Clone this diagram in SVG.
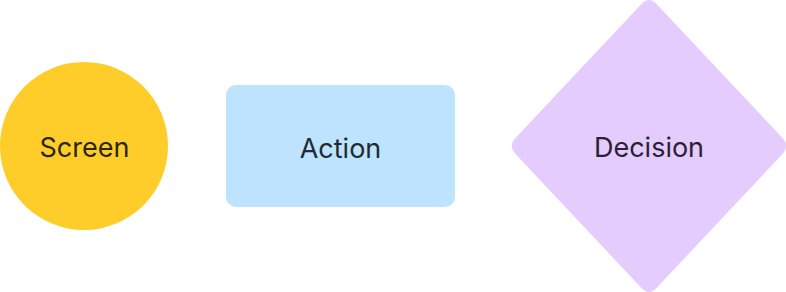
<svg xmlns="http://www.w3.org/2000/svg" width="786" height="292" viewBox="0 0 786 292">
<style>
.t{font-family:Inter,"Noto Sans",sans-serif;font-size:27px;text-anchor:middle;dominant-baseline:central}
</style>
<rect width="786" height="292" fill="#ffffff"/>
<g id="connectors"></g>
<g id="screen">
<circle cx="84" cy="146" r="84" fill="#FFCD29"/>
<text class="t" x="84.5" y="147" fill="#2b2610">Screen</text>
</g>
<g id="action">
<rect x="226" y="85" width="229" height="122" rx="10" fill="#BDE3FF"/>
<text class="t" x="340.5" y="148" fill="#1f2a33">Action</text>
</g>
<g id="decision">
<path d="M641.5,4 Q649,-4 656.5,4 L782.5,138 Q790,146 782.5,154 L656.5,288 Q649,296 641.5,288 L515.5,154 Q508,146 515.5,138 Z" fill="#E4CCFF"/>
<text class="t" x="649" y="147" fill="#2a2233">Decision</text>
</g>
</svg>
